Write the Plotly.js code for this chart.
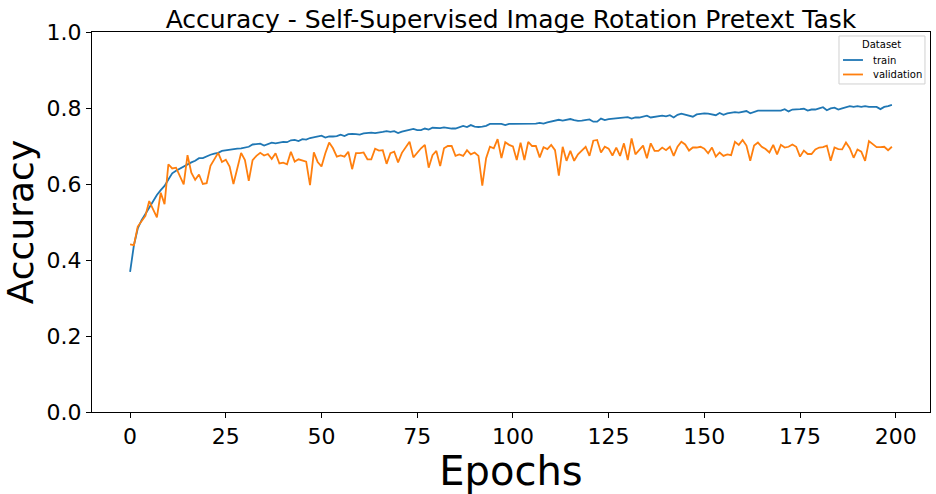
<!DOCTYPE html>
<html>
<head>
<meta charset="utf-8">
<script src="https://cdn.plot.ly/plotly-3.0.1.min.js"></script>
<style>html,body{margin:0;padding:0;background:#fff;}#chart{width:936px;height:494px;}</style>
</head>
<body>
<div id="chart"></div>
<script>
const seriesNames = ["train", "validation"];
const legendTitle = "Dataset";
const trainAcc = [
0.369,0.439,0.483,0.505,0.521,0.539,0.556,0.571,0.584,0.595,0.612,0.628,0.635,0.641,0.647,0.652,0.657,0.661,0.668,0.668,0.673,0.677,0.680,0.682,0.687,
0.689,0.690,0.691,0.693,0.694,0.696,0.698,0.704,0.706,0.706,0.701,0.706,0.709,0.707,0.710,0.711,0.710,0.715,0.716,0.713,0.718,0.717,0.721,0.723,0.725,
0.727,0.722,0.725,0.725,0.726,0.730,0.726,0.731,0.732,0.731,0.730,0.733,0.735,0.735,0.734,0.735,0.737,0.739,0.737,0.739,0.734,0.738,0.740,0.742,0.745,
0.742,0.742,0.746,0.743,0.748,0.748,0.747,0.749,0.747,0.746,0.746,0.749,0.753,0.750,0.755,0.751,0.750,0.751,0.753,0.758,0.758,0.757,0.758,0.755,0.758,
0.758,0.758,0.759,0.759,0.758,0.759,0.759,0.761,0.759,0.762,0.765,0.767,0.769,0.767,0.770,0.771,0.768,0.766,0.767,0.769,0.770,0.764,0.764,0.772,0.768,
0.771,0.772,0.774,0.775,0.775,0.776,0.772,0.775,0.775,0.777,0.780,0.775,0.777,0.779,0.780,0.778,0.781,0.775,0.782,0.785,0.783,0.780,0.777,0.783,0.784,
0.786,0.785,0.783,0.781,0.787,0.782,0.786,0.787,0.789,0.788,0.790,0.792,0.786,0.790,0.793,0.793,0.793,0.793,0.794,0.794,0.793,0.797,0.791,0.796,0.796,
0.797,0.798,0.793,0.796,0.796,0.799,0.802,0.794,0.799,0.801,0.796,0.799,0.801,0.805,0.803,0.805,0.803,0.805,0.803,0.803,0.803,0.797,0.803,0.805,0.808
];
const validationAcc = [
0.441,0.439,0.488,0.501,0.516,0.555,0.534,0.512,0.577,0.547,0.652,0.641,0.643,0.622,0.599,0.676,0.630,0.611,0.625,0.600,0.602,0.648,0.667,0.682,0.658,
0.664,0.646,0.600,0.641,0.682,0.663,0.608,0.663,0.674,0.682,0.675,0.679,0.666,0.681,0.654,0.656,0.652,0.685,0.659,0.665,0.663,0.659,0.597,0.683,0.658,
0.646,0.681,0.709,0.694,0.672,0.675,0.672,0.685,0.639,0.681,0.681,0.683,0.665,0.665,0.693,0.688,0.689,0.653,0.681,0.685,0.657,0.682,0.696,0.711,0.670,
0.683,0.694,0.703,0.643,0.676,0.687,0.647,0.694,0.700,0.700,0.674,0.678,0.674,0.689,0.678,0.683,0.674,0.596,0.668,0.698,0.694,0.718,0.668,0.710,0.703,
0.699,0.663,0.709,0.663,0.711,0.700,0.700,0.670,0.697,0.692,0.703,0.689,0.622,0.698,0.661,0.687,0.661,0.678,0.689,0.698,0.674,0.714,0.716,0.683,0.698,
0.693,0.675,0.696,0.674,0.707,0.663,0.720,0.678,0.689,0.701,0.668,0.707,0.687,0.687,0.696,0.689,0.698,0.674,0.698,0.711,0.704,0.688,0.696,0.696,0.698,
0.693,0.681,0.696,0.672,0.683,0.674,0.678,0.676,0.711,0.703,0.716,0.701,0.661,0.701,0.709,0.698,0.692,0.683,0.703,0.678,0.703,0.696,0.698,0.704,0.698,
0.672,0.688,0.679,0.679,0.691,0.696,0.697,0.701,0.661,0.696,0.692,0.691,0.709,0.694,0.669,0.691,0.685,0.661,0.713,0.704,0.697,0.697,0.698,0.689,0.698
];
const epochs = trainAcc.map((_, i) => i);
const xTicks = [0, 25, 50, 75, 100, 125, 150, 175, 200];
const yTicks = [0.0, 0.2, 0.4, 0.6, 0.8, 1.0];
const colors = ["#1f77b4", "#ff7f0e"];

const font = "DejaVu Sans, sans-serif";
const traces = [
  {x: epochs, y: trainAcc, name: seriesNames[0], mode: "lines", line: {color: colors[0], width: 1.8}},
  {x: epochs, y: validationAcc, name: seriesNames[1], mode: "lines", line: {color: colors[1], width: 1.8}}
];

// matplotlib-style compact legend (paper coordinates)
const legX0 = 0.8914, legX1 = 0.9940, legY0 = 0.8632, legY1 = 0.9895;
const rowY = [0.9263, 0.8882];
const shapes = [
  {type: "rect", xref: "paper", yref: "paper", x0: legX0, x1: legX1, y0: legY0, y1: legY1,
   line: {color: "#d0d0d0", width: 1}, fillcolor: "rgba(255,255,255,0.85)", layer: "above"}
];
const annotations = [
  {xref: "paper", yref: "paper", x: 0.9427, y: 0.9658, text: legendTitle, showarrow: false,
   xanchor: "center", yanchor: "middle", font: {size: 10, family: font, color: "#000"}}
];
seriesNames.forEach((n, i) => {
  shapes.push({type: "line", xref: "paper", yref: "paper", x0: 0.8962, x1: 0.9200, y0: rowY[i], y1: rowY[i],
    line: {color: colors[i], width: 1.8}, layer: "above"});
  annotations.push({xref: "paper", yref: "paper", x: 0.9296, y: rowY[i], text: n, showarrow: false,
    xanchor: "left", yanchor: "middle", font: {size: 10, family: font, color: "#000"}});
});

const layout = {
  width: 936, height: 494,
  margin: {l: 92, r: 6, t: 32, b: 82},
  paper_bgcolor: "#fff", plot_bgcolor: "#fff",
  font: {family: font, color: "#000"},
  title: {text: "Accuracy - Self-Supervised Image Rotation Pretext Task", font: {size: 25, family: font, color: "#000"}, x: 0.5, xref: "paper", xanchor: "center", y: 0.962, yref: "container", yanchor: "middle"},
  xaxis: {
    range: [-9.95, 208.95], tickvals: xTicks, ticktext: xTicks.map(String),
    showgrid: false, zeroline: false, showline: true, mirror: true, linecolor: "#000", linewidth: 1,
    ticks: "outside", ticklen: 5, tickwidth: 1, tickcolor: "#000",
    tickfont: {size: 22, family: font, color: "#000"},
    title: {text: "Epochs", font: {size: 40, family: font, color: "#000"}, standoff: 6}
  },
  yaxis: {
    range: [0, 1], tickvals: yTicks, ticktext: yTicks.map(v => v.toFixed(1)),
    showgrid: false, zeroline: false, showline: true, mirror: true, linecolor: "#000", linewidth: 1,
    ticks: "outside", ticklen: 5, tickwidth: 1, tickcolor: "#000",
    tickfont: {size: 22, family: font, color: "#000"},
    title: {text: "Accuracy", font: {size: 36, family: font, color: "#000"}, standoff: 8}
  },
  showlegend: false,
  shapes: shapes,
  annotations: annotations
};
Plotly.newPlot("chart", traces, layout, {displayModeBar: false, staticPlot: true});
</script>
</body>
</html>
